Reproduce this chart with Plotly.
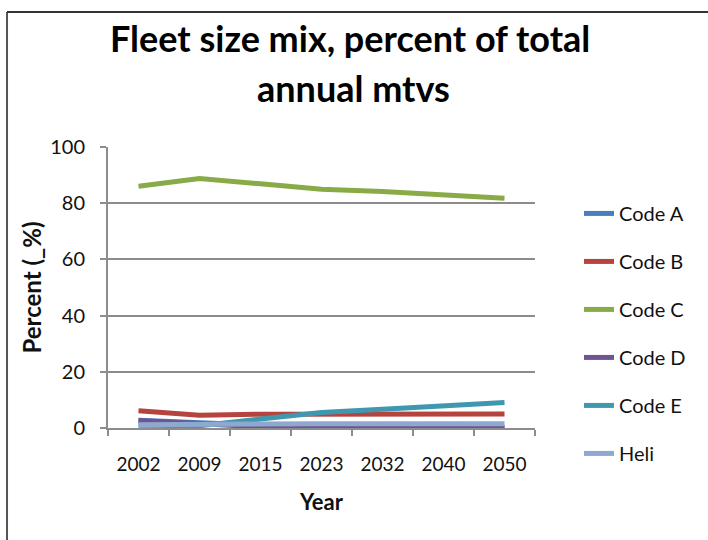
import plotly.graph_objects as go

# Fleet size mix by aircraft code, percent of total annual movements
years = ["2002", "2009", "2015", "2023", "2032", "2040", "2050"]
code_a = [2.8, 1.8, 1.0, 0.5, 0.3, 0.2, 0.2]
code_b = [6.1, 4.5, 4.9, 5.0, 5.0, 5.0, 5.0]
code_c = [86.0, 88.8, 86.9, 85.0, 84.2, 83.2, 81.8]
code_d = [2.7, 1.4, 0.4, 0.0, 0.0, 0.0, 0.0]
code_e = [1.0, 0.8, 3.2, 5.5, 6.7, 7.9, 9.1]
heli = [1.2, 1.4, 1.5, 1.5, 1.5, 1.5, 1.5]

series = [
    ("Code A", code_a, "#4A7EBB"),
    ("Code B", code_b, "#B5443F"),
    ("Code C", code_c, "#89AB47"),
    ("Code D", code_d, "#6F5494"),
    ("Code E", code_e, "#3F98B0"),
    ("Heli", heli, "#8FA8CF"),
]

FONT = "Lato"
GRID = "#8C8C8C"

fig = go.Figure()
for i, (name, vals, color) in enumerate(series):
    fig.add_trace(go.Scatter(
        x=years, y=vals, name=name, mode="lines",
        line=dict(color=color, width=5),
        legendgroup=f"g{i}",
    ))

fig.update_layout(
    width=708, height=540,
    margin=dict(l=108, r=173, t=147, b=112),
    paper_bgcolor="white", plot_bgcolor="white",
    showlegend=True,
    legend=dict(
        x=1.103, xanchor="left", y=0.833, yanchor="top",
        font=dict(family=FONT, size=20, color="#111"),
        tracegroupgap=19, itemwidth=30, maxheight=500,
        bgcolor="rgba(0,0,0,0)",
    ),
    xaxis=dict(
        type="category", range=[-0.5, 6.5], showgrid=False,
        showline=True, linecolor=GRID, linewidth=2,
        ticks="outside", ticklen=6, tickcolor=GRID, tickwidth=2,
        tickson="boundaries", ticklabelstandoff=18,
        tickfont=dict(family=FONT, size=19, color="#111"),
        title=dict(text="<b>Year</b>", font=dict(family=FONT, size=22, color="#111"), standoff=21),
    ),
    yaxis=dict(
        range=[0, 100], dtick=20,
        showgrid=True, gridcolor=GRID, gridwidth=2,
        showline=True, linecolor=GRID, linewidth=2,
        ticks="outside", ticklen=6, tickcolor=GRID, tickwidth=2,
        zeroline=False, ticklabelstandoff=11,
        tickfont=dict(family=FONT, size=20, color="#111"),
        title=dict(text="<b>Percent (_%)</b>", font=dict(family=FONT, size=24, color="#111"), standoff=2),
    ),
    annotations=[
        dict(text="<b>Fleet size mix, percent of total</b>", x=0.5, y=1.0,
             xref="paper", yref="paper", xanchor="center", yanchor="middle",
             xshift=28, yshift=109, showarrow=False,
             font=dict(family=FONT, size=36, color="#000")),
        dict(text="<b>annual mtvs</b>", x=0.5, y=1.0,
             xref="paper", yref="paper", xanchor="center", yanchor="middle",
             xshift=32, yshift=59, showarrow=False,
             font=dict(family=FONT, size=36, color="#000")),
    ],
    shapes=[
        # frame around the chart area (left and top edges)
        dict(type="line", xref="paper", yref="paper",
             x0=-0.2365, x1=-0.2365, y0=1.48, y1=-0.40,
             line=dict(color="#555", width=2)),
        dict(type="line", xref="paper", yref="paper",
             x0=-0.2365, x1=1.41, y0=1.48, y1=1.48,
             line=dict(color="#333", width=2)),
    ],
)

fig.write_html("out.html")
